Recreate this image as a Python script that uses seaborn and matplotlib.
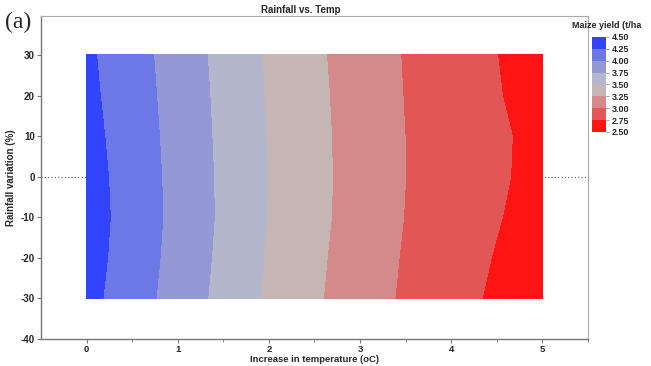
import numpy as np
import matplotlib
matplotlib.use("Agg")
import matplotlib.pyplot as plt
from matplotlib.colors import ListedColormap, BoundaryNorm
import seaborn as sns

# ---- data ----
temp_increase = [0.0, 0.5, 1.0, 1.5, 2.0, 2.5, 3.0, 3.5, 4.0, 4.5, 5.0]
rainfall_var = [-30, -20, -10, 0, 10, 20, 30]
yield_rain_m30 = [4.326, 4.114, 3.897, 3.674, 3.461, 3.282, 3.117, 2.964, 2.837, 2.709, 2.582]
yield_rain_m20 = [4.349, 4.134, 3.915, 3.692, 3.475, 3.296, 3.131, 2.978, 2.857, 2.735, 2.614]
yield_rain_m10 = [4.362, 4.147, 3.929, 3.706, 3.489, 3.311, 3.147, 2.993, 2.878, 2.764, 2.649]
yield_rain_0 = [4.352, 4.140, 3.924, 3.703, 3.493, 3.314, 3.152, 3.000, 2.891, 2.783, 2.674]
yield_rain_p10 = [4.332, 4.127, 3.915, 3.695, 3.486, 3.310, 3.149, 2.998, 2.892, 2.786, 2.680]
yield_rain_p20 = [4.310, 4.111, 3.904, 3.686, 3.479, 3.303, 3.142, 2.991, 2.877, 2.764, 2.650]
yield_rain_p30 = [4.293, 4.098, 3.890, 3.674, 3.468, 3.292, 3.133, 2.984, 2.868, 2.752, 2.637]
yield_levels = [2.50, 2.75, 3.00, 3.25, 3.50, 3.75, 4.00, 4.25, 4.50]
level_colors = ["#FF1414", "#E25656", "#D48A8B", "#C5B5B3",
                "#B4B7CB", "#9499D6", "#6B78E6", "#3344FF"]
x_ticks = [0, 1, 2, 3, 4, 5]
y_ticks = [-40, -30, -20, -10, 0, 10, 20, 30]

sns.set_style("white")
plt.rcParams["font.family"] = ["Liberation Sans", "DejaVu Sans"]
plt.rcParams["axes.unicode_minus"] = False

Z = np.array([yield_rain_m30, yield_rain_m20, yield_rain_m10, yield_rain_0,
              yield_rain_p10, yield_rain_p20, yield_rain_p30])
X, Y = np.meshgrid(temp_increase, rainfall_var)

cmap = ListedColormap(sns.color_palette(level_colors))
norm = BoundaryNorm(yield_levels, cmap.N)

fig = plt.figure(figsize=(6.51, 3.66), dpi=100)
ax = fig.add_axes([41/651, 27/366, 547/651, 323/366])

ax.axhline(0, color="#555555", lw=0.8, ls=(0, (1, 2)), zorder=0)
cf = ax.contourf(X, Y, Z, levels=yield_levels, cmap=cmap, norm=norm, zorder=1)

ax.set_xlim(-0.5, 5.5)
ax.set_ylim(-40, 39.6)
ax.set_xticks(x_ticks)
ax.set_xticks([0.5, 1.5, 2.5, 3.5, 4.5, 5.5], minor=True)
ax.set_yticks(y_ticks)
ax.tick_params(axis="both", which="major", direction="out", length=3, width=0.8,
               color="#777777", labelsize=7, pad=1.5)
ax.tick_params(axis="x", which="minor", direction="out", length=2, width=0.6,
               color="#777777", bottom=True)
ax.tick_params(axis="x", which="major", bottom=True, pad=1, labelsize=6.8)
ax.tick_params(axis="y", which="major", left=True)
for lab in ax.get_xticklabels() + ax.get_yticklabels():
    lab.set_fontweight("bold")
for side in ["left", "bottom"]:
    ax.spines[side].set_color("#777777")
    ax.spines[side].set_linewidth(1.0)
for side in ["top", "right"]:
    ax.spines[side].set_color("#aaaaaa")
    ax.spines[side].set_linewidth(0.8)

ax.set_xlabel("Increase in temperature (oC)", fontsize=6.8, fontweight="bold")
ax.xaxis.set_label_coords(0.5, -0.049)
ax.set_ylabel("Rainfall variation (%)", fontsize=7, fontweight="bold", labelpad=3)
fig.text(301/651, 1 - 10/366, "Rainfall vs. Temp", fontsize=7, fontweight="bold",
         ha="center", va="center")
fig.text(5/651, 1 - 22/366, "(a)", fontsize=17, family=["Liberation Serif", "DejaVu Serif"],
         ha="left", va="center")

cax = fig.add_axes([592/651, 1 - 132/366, 14/651, 95/366])
cb = fig.colorbar(cf, cax=cax, ticks=yield_levels)
cb.outline.set_visible(False)
cax.tick_params(labelsize=6.5, length=2, width=0.5, color="#777777", pad=2)
cax.set_yticklabels([f"{v:.2f}" for v in yield_levels])
for lab in cax.get_yticklabels():
    lab.set_fontweight("bold")
fig.text(572/651, 1 - 26/366, "Maize yield (t/ha", fontsize=6.5, fontweight="bold",
         ha="left", va="center")

fig.savefig("out.png", dpi=100)
